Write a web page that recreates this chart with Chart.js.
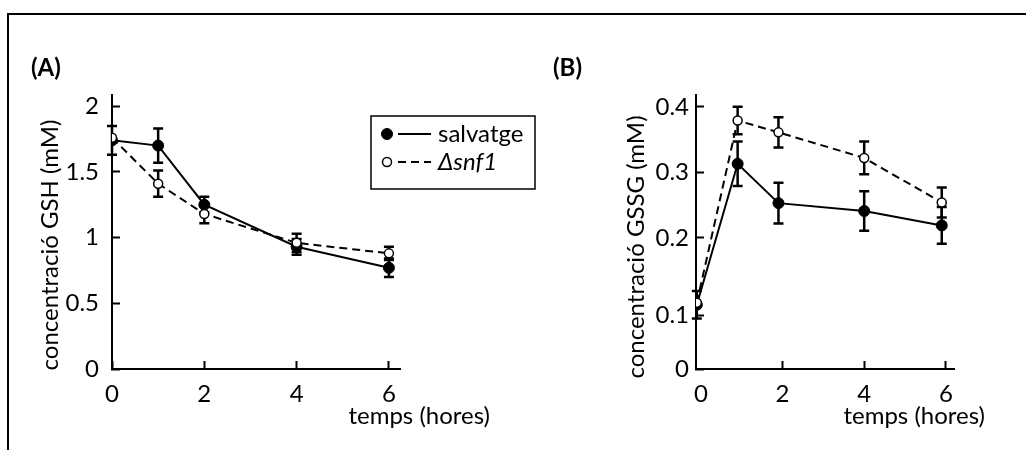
<!DOCTYPE html>
<html>
<head>
<meta charset="utf-8">
<script src="https://cdn.jsdelivr.net/npm/chart.js@4.4.0/dist/chart.umd.min.js"></script>
<style>
  body { margin: 0; background: #fff; width: 1026px; height: 450px; overflow: hidden; position: relative; }
  #frame { position: absolute; left: 7px; top: 13px; width: 1040px; height: 460px;
           border-top: 2px solid #000; border-left: 2px solid #000; }
  #wrapA { position: absolute; left: 0; top: 0; width: 560px; height: 450px; }
  #wrapB { position: absolute; left: 520px; top: 0; width: 506px; height: 450px; }
</style>
</head>
<body>
<div id="frame"></div>
<div id="wrapA"><canvas id="chartA" width="560" height="450"></canvas></div>
<div id="wrapB"><canvas id="chartB" width="506" height="450"></canvas></div>
<script>
// values (mM, hours)
const timesA = [0, 1, 2, 4, 6];
const timesB = [-0.1, 0.9, 1.9, 4, 5.9];
const gshWild = [1.74, 1.70, 1.25, 0.93, 0.77];
const gshWildErr = [0.11, 0.13, 0.06, 0.06, 0.07];
const gshSnf1 = [1.76, 1.41, 1.18, 0.96, 0.88];
const gshSnf1Err = [0, 0.10, 0.07, 0.07, 0.05];
const gssgWild = [0.098, 0.313, 0.253, 0.241, 0.219];
const gssgWildErr = [0.021, 0.034, 0.031, 0.030, 0.028];
const gssgSnf1 = [0.101, 0.379, 0.361, 0.322, 0.254];
const gssgSnf1Err = [0, 0.021, 0.023, 0.025, 0.023];
const seriesNames = ["salvatge", "\u0394snf1"];
const xTicks = [0, 2, 4, 6];
const gshTicks = [0, 0.5, 1, 1.5, 2];
const gssgTicks = [0, 0.1, 0.2, 0.3, 0.4];
// in the original the "0.1" mark of panel B sits lower than 0.1 really is
const gssgTickAt = [0, 0.082, 0.2, 0.3, 0.4];

const FONT = "Lato";
const SIZE = 24;

const errorBars = {
  id: "errorBars",
  beforeDatasetsDraw(chart) {
    const ctx = chart.ctx;
    const xs = chart.scales.x;
    const ys = chart.scales.y;
    ctx.save();
    ctx.strokeStyle = "#000";
    ctx.lineWidth = 2.5;
    chart.data.datasets.forEach((ds) => {
      ds.data.forEach((p, i) => {
        const e = ds.errors[i];
        if (!e) return;
        const x = xs.getPixelForValue(p.x);
        const top = ys.getPixelForValue(p.y + e);
        const bot = ys.getPixelForValue(p.y - e);
        ctx.beginPath();
        ctx.moveTo(x, top);
        ctx.lineTo(x, bot);
        ctx.moveTo(x - 5, top);
        ctx.lineTo(x + 5, top);
        ctx.moveTo(x - 5, bot);
        ctx.lineTo(x + 5, bot);
        ctx.stroke();
      });
    });
    ctx.restore();
  },
};

const panelText = {
  id: "panelText",
  afterDraw(chart, args, o) {
    const ctx = chart.ctx;
    ctx.save();
    ctx.fillStyle = "#000";
    ctx.textBaseline = "middle";
    ctx.font = "bold " + SIZE + "px " + FONT;
    ctx.textAlign = "left";
    ctx.fillText(o.tag, o.tagX, o.tagY);
    ctx.font = SIZE + "px " + FONT;
    ctx.textAlign = "right";
    ctx.fillText(o.xTitle, o.xTitleX, o.xTitleY);
    ctx.translate(o.yTitleX, o.yTitleY);
    ctx.rotate(-Math.PI / 2);
    ctx.textAlign = "center";
    ctx.fillText(o.yTitle, 0, 0);
    ctx.restore();
  },
};

const boxLegend = {
  id: "boxLegend",
  afterDraw(chart, args, o) {
    if (!o.show) return;
    const ctx = chart.ctx;
    ctx.save();
    ctx.strokeStyle = "#000";
    ctx.lineWidth = 1.5;
    ctx.strokeRect(o.left, o.top, o.width, o.height);
    chart.data.datasets.forEach((ds, i) => {
      const y = o.rowY[i];
      ctx.setLineDash(ds.borderDash || []);
      ctx.lineWidth = ds.borderWidth;
      ctx.beginPath();
      ctx.moveTo(o.left + 27, y);
      ctx.lineTo(o.left + 60, y);
      ctx.stroke();
      ctx.setLineDash([]);
      ctx.lineWidth = ds.pointBorderWidth;
      ctx.fillStyle = ds.pointBackgroundColor;
      ctx.beginPath();
      ctx.arc(o.left + 16, y, ds.pointRadius, 0, Math.PI * 2);
      ctx.fill();
      ctx.stroke();
      ctx.fillStyle = "#000";
      ctx.textBaseline = "middle";
      ctx.textAlign = "left";
      ctx.font = (ds.italic ? "italic " : "") + SIZE + "px " + FONT;
      ctx.fillText(ds.label, o.left + 67, y);
    });
    ctx.restore();
  },
};

function toPoints(times, values) {
  return times.map((t, i) => ({ x: t, y: values[i] }));
}

function makePanel(id, p) {
  return new Chart(document.getElementById(id), {
    type: "line",
    data: {
      datasets: [
        {
          label: seriesNames[0],
          data: toPoints(p.times, p.wild),
          errors: p.wildErr,
          borderColor: "#000",
          borderWidth: 2,
          pointRadius: 5.5,
          pointBackgroundColor: "#000",
          pointBorderColor: "#000",
          pointBorderWidth: 1,
          order: 1,
        },
        {
          label: seriesNames[1],
          data: toPoints(p.times, p.snf1),
          errors: p.snf1Err,
          italic: true,
          borderColor: "#000",
          borderWidth: 2,
          borderDash: [8, 5],
          pointRadius: 4.5,
          pointBackgroundColor: "#fff",
          pointBorderColor: "#000",
          pointBorderWidth: 1.5,
          order: 0,
        },
      ],
    },
    options: {
      responsive: false,
      animation: false,
      events: [],
      layout: { padding: { left: 0, top: 95, right: p.padRight, bottom: 0 } },
      elements: { line: { tension: 0 } },
      plugins: {
        legend: { display: false },
        tooltip: { enabled: false },
        panelText: p.text,
        boxLegend: p.legend,
      },
      scales: {
        x: {
          type: "linear",
          min: p.xMin,
          max: p.xMax,
          afterBuildTicks: (s) => { s.ticks = xTicks.map((v) => ({ value: v })); },
          afterFit: (s) => { s.height = 81; s.paddingLeft = 0; s.paddingRight = 0; },
          grid: {
            drawOnChartArea: false,
            tickLength: -8,
            tickWidth: 2,
            tickColor: (c) => (c.tick && c.tick.value < p.xTickFrom ? "rgba(0,0,0,0)" : "#000"),
          },
          border: { color: "#000", width: 2 },
          ticks: {
            padding: 19,
            color: "#000",
            font: { family: FONT, size: SIZE },
            callback: (v) => String(v),
          },
        },
        y: {
          type: "linear",
          min: 0,
          max: p.yMax,
          afterBuildTicks: (s) => { s.ticks = p.yTickAt.map((v) => ({ value: v })); },
          afterFit: (s) => { s.width = p.yWidth; s.paddingTop = 0; s.paddingBottom = 0; },
          grid: {
            drawOnChartArea: false,
            tickLength: -8,
            tickWidth: 2,
            tickColor: "#000",
          },
          border: { color: "#000", width: 2 },
          ticks: {
            padding: p.yPad,
            color: "#000",
            font: { family: FONT, size: SIZE },
            callback: (v, i) => String(p.yTicks[i]),
          },
        },
      },
    },
    plugins: [errorBars, panelText, boxLegend],
  });
}

makePanel("chartA", {
  times: timesA,
  wild: gshWild,
  wildErr: gshWildErr,
  snf1: gshSnf1,
  snf1Err: gshSnf1Err,
  xMin: 0,
  xMax: 6.24,
  xTickFrom: 0,
  yMax: 2.085,
  yTicks: gshTicks,
  yTickAt: gshTicks,
  yWidth: 112,
  yPad: 21,
  padRight: 160,
  text: {
    tag: "(A)", tagX: 31, tagY: 68,
    xTitle: "temps (hores)", xTitleX: 490, xTitleY: 416,
    yTitle: "concentració GSH (mM)", yTitleX: 50, yTitleY: 245,
  },
  legend: { show: true, left: 371, top: 116, width: 164, height: 73, rowY: [134, 162] },
});

makePanel("chartB", {
  times: timesB,
  wild: gssgWild,
  wildErr: gssgWildErr,
  snf1: gssgSnf1,
  snf1Err: gssgSnf1Err,
  xMin: -0.12,
  xMax: 6.2,
  xTickFrom: 1,
  yMax: 0.418,
  yTicks: gssgTicks,
  yTickAt: gssgTickAt,
  yWidth: 176,
  yPad: 15,
  padRight: 72,
  text: {
    tag: "(B)", tagX: 33, tagY: 68,
    xTitle: "temps (hores)", xTitleX: 465, xTitleY: 416,
    yTitle: "concentració GSSG (mM)", yTitleX: 116, yTitleY: 247,
  },
  legend: { show: false },
});
</script>
</body>
</html>
